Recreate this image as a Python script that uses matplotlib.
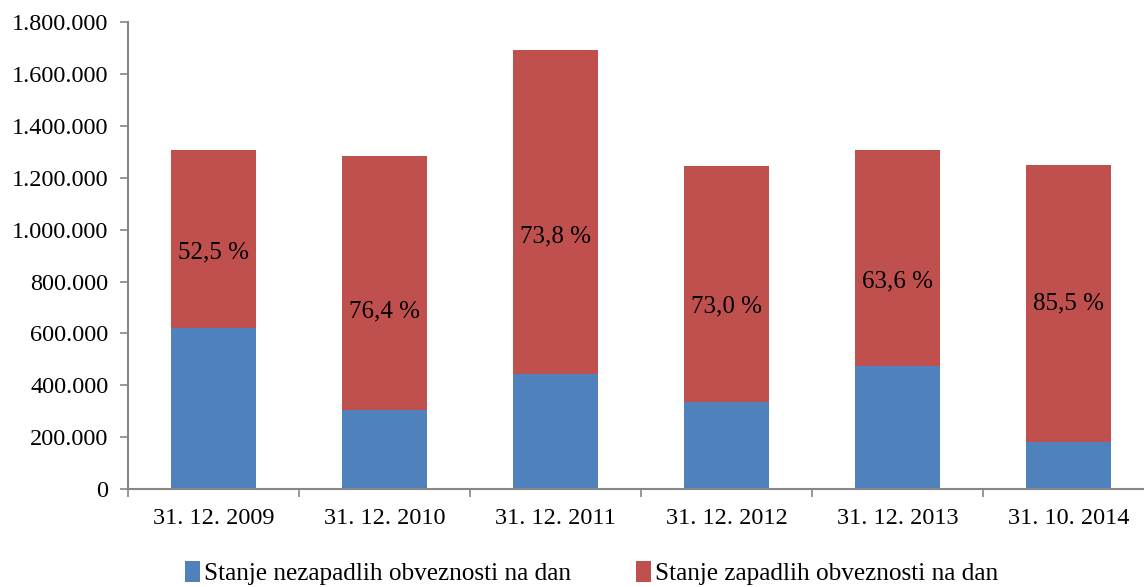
import matplotlib
matplotlib.use("Agg")
from matplotlib import pyplot as plt
from matplotlib.ticker import FuncFormatter

datumi = ["31. 12. 2009", "31. 12. 2010", "31. 12. 2011",
          "31. 12. 2012", "31. 12. 2013", "31. 10. 2014"]
nezapadle = [621000, 303000, 443000, 336000, 475000, 181000]
zapadle = [687000, 981000, 1249000, 908000, 831000, 1067000]
delez = ["52,5 %", "76,4 %", "73,8 %", "73,0 %", "63,6 %", "85,5 %"]
visina_oznake = [913000, 686000, 975000, 705000, 802000, 716000]

plt.rcParams['font.family'] = ['Liberation Serif', 'DejaVu Serif']

fig = plt.figure(figsize=(11.44, 5.87), dpi=100)
ax = fig.add_axes([0.1119, 0.167, 0.8969, 0.795])

x = [i + 0.5 for i in range(len(datumi))]
modra = '#4F81BD'
rdeca = '#C0504D'
ax.bar(x, nezapadle, width=0.5, color=modra, label="Stanje nezapadlih obveznosti na dan")
ax.bar(x, zapadle, width=0.5, bottom=nezapadle, color=rdeca,
       label="Stanje zapadlih obveznosti na dan")

for xi, y, t in zip(x, visina_oznake, delez):
    ax.text(xi, y, t, ha='center', va='center', fontsize=18, color='black')

ax.set_xlim(0, 6)
ax.set_ylim(0, 1800000)
ax.set_yticks(range(0, 1800001, 200000))
ax.yaxis.set_major_formatter(FuncFormatter(lambda v, p: f"{int(v):,}".replace(",", ".")))
ax.set_xticks(x)
ax.set_xticklabels(datumi)
ax.set_xticks(range(0, 7), minor=True)

for s in ['top', 'right']:
    ax.spines[s].set_visible(False)
for s in ['left', 'bottom']:
    ax.spines[s].set_color('#868686')
    ax.spines[s].set_linewidth(1.5)

ax.tick_params(axis='y', length=6, width=1.2, color='#868686', labelsize=17.5, pad=8)
ax.tick_params(axis='x', which='major', length=0, labelsize=17.5, pad=14)
ax.tick_params(axis='x', which='minor', length=6, width=1.2, color='#868686')

fig.legend(loc='center', bbox_to_anchor=(0.517, 0.024), ncol=2, frameon=False,
           fontsize=18.2, handlelength=0.6, handleheight=0.9, handletextpad=0.15,
           columnspacing=2.6)

fig.savefig("out.png", dpi=100)
